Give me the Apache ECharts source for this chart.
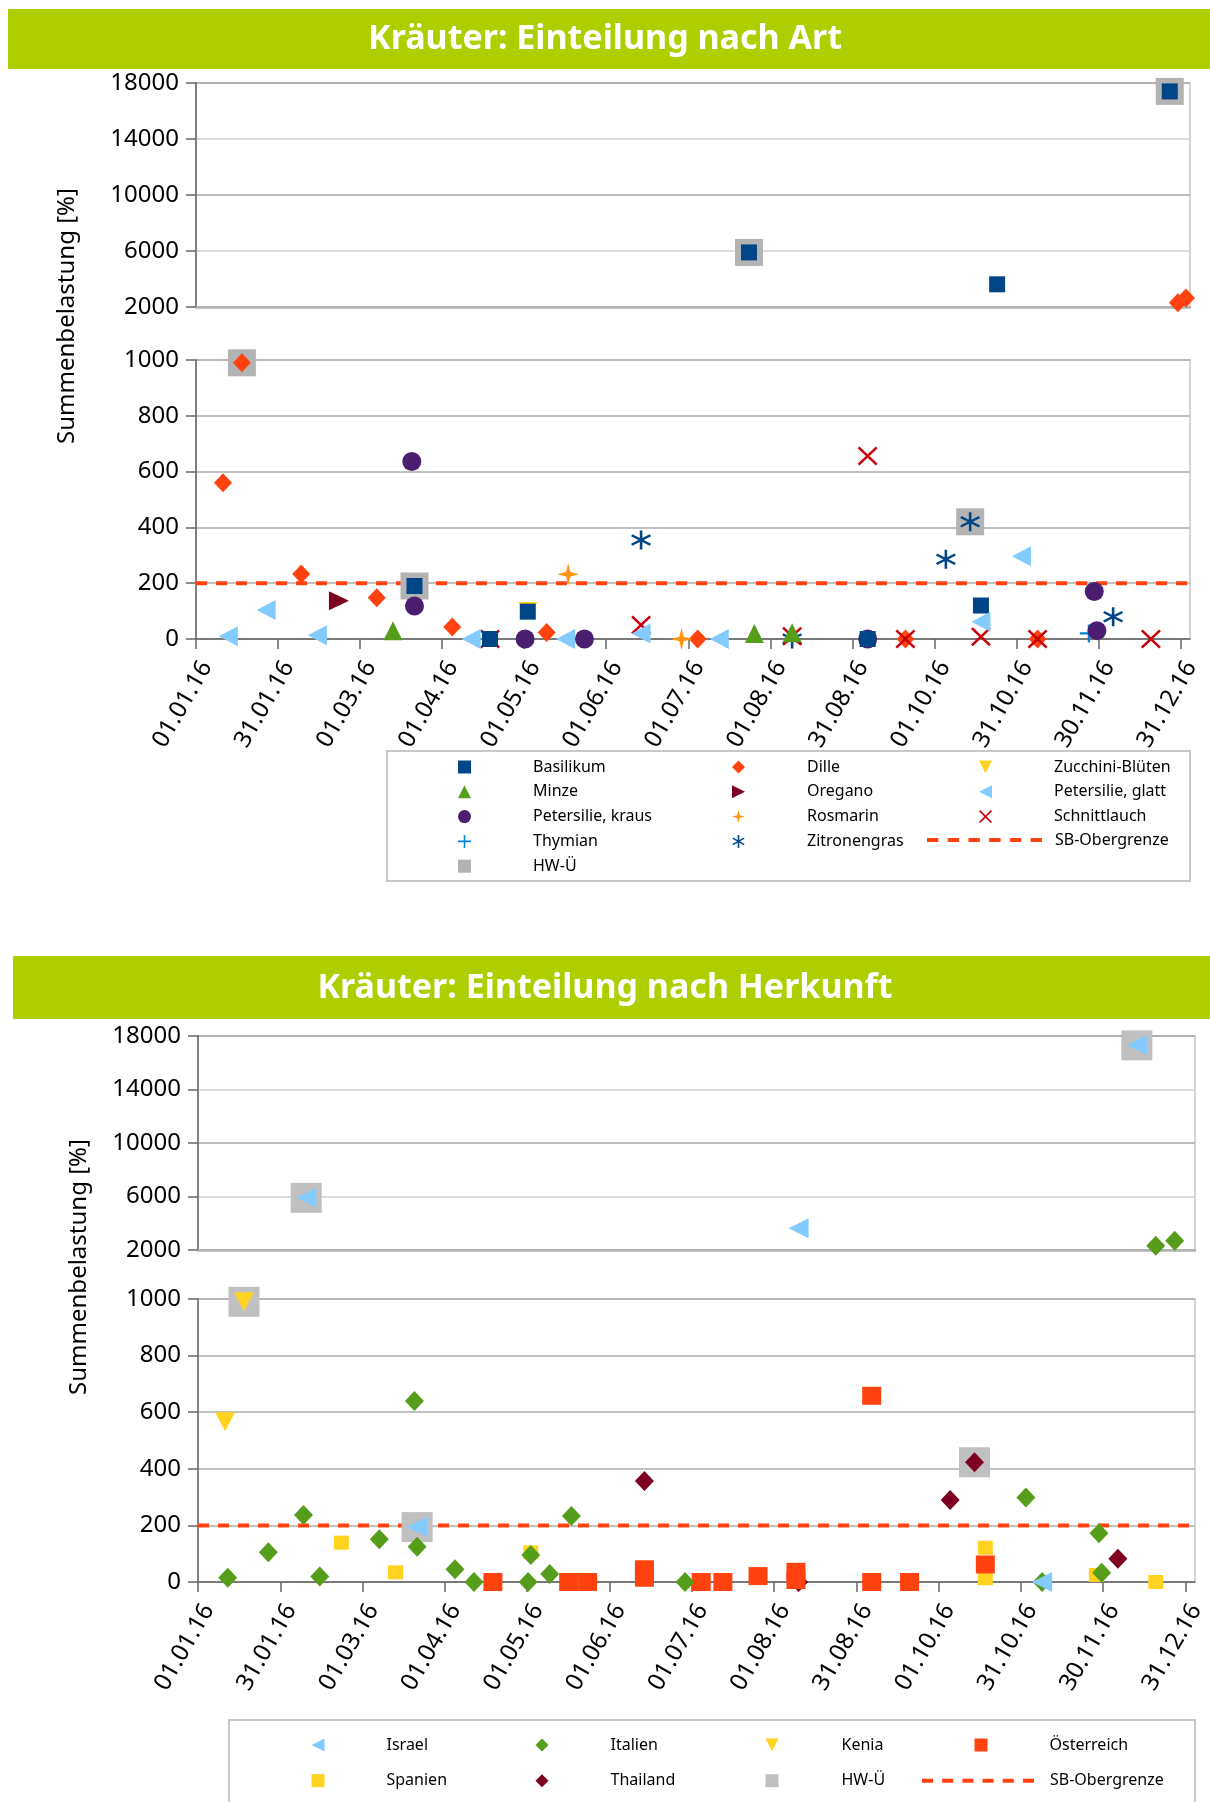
<!DOCTYPE html>
<html>
<head>
<meta charset="utf-8">
<script src="https://cdn.jsdelivr.net/npm/echarts@6/dist/echarts.min.js"></script>
<style>
  html, body { margin: 0; padding: 0; background: #fff; }
  #chart1 { width: 1210px; height: 900px; }
  #chart2 { width: 1210px; height: 902px; }
</style>
</head>
<body>
<div id="chart1"></div>
<div id="chart2"></div>
<script>
// ticks on the date axis, one every 365/12 days from 01.01.16
const xTickLabels = ['01.01.16', '31.01.16', '01.03.16', '01.04.16', '01.05.16', '01.06.16', '01.07.16',
  '01.08.16', '31.08.16', '01.10.16', '31.10.16', '30.11.16', '31.12.16'];
const upperTicks = [2000, 6000, 10000, 14000, 18000];
const lowerTicks = [0, 200, 400, 600, 800, 1000];
const sbLimit = 200;

// chart 1: Einteilung nach Art  [date, Summenbelastung %]
const basilikum = [['2016-03-22', 190], ['2016-04-19', 0], ['2016-05-03', 98], ['2016-07-24', 5900],
  ['2016-09-06', 0], ['2016-10-18', 120], ['2016-10-24', 3620], ['2016-12-27', 17400]];
const dille = [['2016-01-11', 560], ['2016-01-18', 990], ['2016-02-09', 233], ['2016-03-08', 148],
  ['2016-04-05', 43], ['2016-05-10', 23], ['2016-07-05', 0], ['2016-09-20', 0], ['2016-11-08', 0],
  ['2016-12-30', 2300], ['2017-01-02', 2650]];
const zucchiniBlueten = [['2016-05-03', 100]];
const minze = [['2016-03-14', 30], ['2016-07-26', 20], ['2016-08-09', 22]];
const oregano = [['2016-02-23', 137]];
const petersilieGlatt = [['2016-01-13', 10], ['2016-01-27', 104], ['2016-02-15', 13], ['2016-04-12', 0],
  ['2016-05-17', 0], ['2016-06-14', 20], ['2016-07-13', 0], ['2016-10-18', 62], ['2016-11-02', 297]];
const petersilieKraus = [['2016-03-21', 636], ['2016-03-22', 118], ['2016-05-02', 0], ['2016-05-24', 0],
  ['2016-09-06', 0], ['2016-11-29', 170], ['2016-11-30', 30]];
const rosmarin = [['2016-05-18', 232], ['2016-06-29', 0]];
const schnittlauch = [['2016-04-19', 0], ['2016-06-14', 50], ['2016-08-09', 10], ['2016-09-06', 656],
  ['2016-09-20', 0], ['2016-10-18', 8], ['2016-11-08', 0], ['2016-12-20', 0]];
const thymian = [['2016-11-27', 20]];
const zitronengras = [['2016-06-14', 355], ['2016-08-09', 0], ['2016-10-05', 286], ['2016-10-14', 420],
  ['2016-12-06', 80]];
const hwUe1 = [['2016-01-18', 990], ['2016-03-22', 190], ['2016-07-24', 5900], ['2016-10-14', 420],
  ['2016-12-27', 17400]];

// chart 2: Einteilung nach Herkunft
const israel = [['2016-02-10', 5900], ['2016-03-22', 194], ['2016-08-10', 3620], ['2016-11-08', 0],
  ['2016-12-13', 17300]];
const italien = [['2016-01-12', 15], ['2016-01-27', 105], ['2016-02-09', 237], ['2016-02-15', 19],
  ['2016-03-08', 151], ['2016-03-21', 640], ['2016-03-22', 125], ['2016-04-05', 45], ['2016-04-12', 0],
  ['2016-05-02', 0], ['2016-05-03', 95], ['2016-05-10', 28], ['2016-05-18', 233], ['2016-06-29', 0],
  ['2016-11-02', 299], ['2016-11-08', 0], ['2016-11-29', 172], ['2016-11-30', 33], ['2016-12-20', 2320],
  ['2016-12-27', 2700]];
const kenia = [['2016-01-11', 566], ['2016-01-18', 990]];
const oesterreich = [['2016-04-19', 0], ['2016-05-17', 0], ['2016-05-24', 0], ['2016-06-14', 45],
  ['2016-06-14', 15], ['2016-07-05', 0], ['2016-07-13', 0], ['2016-07-26', 21], ['2016-08-09', 36],
  ['2016-08-09', 7], ['2016-09-06', 658], ['2016-09-06', 0], ['2016-09-20', 0], ['2016-10-18', 62]];
const spanien = [['2016-02-23', 139], ['2016-03-14', 34], ['2016-05-03', 105], ['2016-10-18', 121],
  ['2016-10-18', 13], ['2016-11-28', 25], ['2016-12-20', 0]];
const thailand = [['2016-06-14', 357], ['2016-08-10', 0], ['2016-10-05', 290], ['2016-10-14', 423],
  ['2016-12-06', 82]];
const hwUe2 = [['2016-01-18', 990], ['2016-02-10', 5900], ['2016-03-22', 194], ['2016-10-14', 423],
  ['2016-12-13', 17300]];

const FONT = '"Noto Sans", "DejaVu Sans", sans-serif';
const SB_COLOR = '#FF420E';
const xStep = 365 / 12;
const xMax = 368.5;
const xTickValues = xTickLabels.map((_, i) => i * xStep);

// marker shapes
const TRI_LEFT = 'path://M0,10L20,0L20,20Z';
const TRI_RIGHT = 'path://M0,0L20,10L0,20Z';
const TRI_DOWN = 'path://M0,0L20,0L10,20Z';
const CROSS_X = 'path://M0,1.8L1.8,0L10,8.2L18.2,0L20,1.8L11.8,10L20,18.2L18.2,20L10,11.8L1.8,20L0,18.2L8.2,10Z';
const PLUS = 'path://M8.8,0H11.2V8.8H20V11.2H11.2V20H8.8V11.2H0V8.8H8.8Z';
const STAR4 = 'path://M10,0L12,8L20,10L12,12L10,20L8,12L0,10L8,8Z';
const ASTERISK = 'path://M8.8,0L11.2,0L11.2,20L8.8,20Z' +
  'M1.94,3.96L19.26,13.96L18.06,16.04L0.74,6.04Z' +
  'M19.26,6.04L1.94,16.04L0.74,13.96L18.06,3.96Z';
// six square dashes for the legend entry of the limit line
const DASHES = 'path://M0,0H11V4H0Z M20,0H31V4H20Z M40,0H51V4H40Z M60,0H71V4H60Z M80,0H91V4H80Z M100,0H111V4H100Z';

function dayOf(s) {
  const [y, m, d] = s.split('-').map(Number);
  return (Date.UTC(y, m - 1, d) - Date.UTC(2016, 0, 1)) / 86400000;
}

function addScatter(list, def, z) {
  const pts = def.data.map(p => [dayOf(p[0]), p[1]]);
  const common = {
    name: def.name, type: 'scatter', symbol: def.symbol, symbolSize: def.size,
    itemStyle: { color: def.color, opacity: 1 }, z: z, silent: true
  };
  list.push(Object.assign({}, common, { xAxisIndex: 0, yAxisIndex: 0, data: pts.filter(p => p[1] > 1000) }));
  list.push(Object.assign({}, common, { xAxisIndex: 1, yAxisIndex: 1, data: pts.filter(p => p[1] <= 1000) }));
}

function buildOption(L) {
  const series = [{
    name: 'SB-Obergrenze', type: 'line', xAxisIndex: 1, yAxisIndex: 1,
    data: [[0, sbLimit], [xMax, sbLimit]], symbol: 'none', silent: true, z: 1,
    itemStyle: { color: SB_COLOR },
    lineStyle: { color: SB_COLOR, width: 4, type: [11, 9] }
  }];
  addScatter(series, L.hw, 1);
  L.defs.forEach(d => addScatter(series, d, 2));

  const axisLineStyle = { color: '#666', width: 1.5 };
  const legendText = pad => ({ fontSize: 16, color: '#000', fontFamily: FONT, lineHeight: 18, padding: [0, 0, 0, pad] });
  const legends = L.cols.map(c => ({
    orient: 'vertical', left: c.left, top: c.top, padding: 0,
    itemWidth: 13, itemHeight: 13, itemGap: L.legendGap, selectedMode: false,
    data: c.items, textStyle: legendText(c.pad)
  }));
  legends.push({
    left: L.sb.left, top: L.sb.top, padding: 0, itemWidth: L.sb.width, itemHeight: 18,
    selectedMode: false, data: [{ name: 'SB-Obergrenze', icon: DASHES, itemStyle: { color: SB_COLOR } }],
    textStyle: legendText(L.sb.pad)
  });

  return {
    animation: false,
    textStyle: { fontFamily: FONT },
    title: {
      text: L.title, left: 'center', top: L.titleTop, padding: 0, z: 10,
      textStyle: { color: '#fff', fontSize: 34, fontWeight: 'bold', fontFamily: FONT, lineHeight: 40 }
    },
    graphic: [
      { type: 'rect', z: 0, shape: L.banner, style: { fill: '#AFCE00' } },
      { type: 'rect', z: 0, shape: L.box, style: { fill: 'none', stroke: '#c8c8c8', lineWidth: 2 } },
      {
        type: 'text', x: L.yTitle.x, y: L.yTitle.y, rotation: Math.PI / 2, z: 5,
        style: {
          text: 'Summenbelastung [%]', font: '24px ' + FONT, fill: '#000',
          align: 'center', verticalAlign: 'middle', textAlign: 'center', textVerticalAlign: 'middle'
        }
      }
    ],
    legend: legends,
    grid: [
      { left: L.left, top: L.upperTop, width: L.width, height: L.upperH, show: true, borderColor: '#c8c8c8', borderWidth: 1.5 },
      { left: L.left, top: L.lowerTop, width: L.width, height: L.lowerH, show: true, borderColor: '#c8c8c8', borderWidth: 1.5 }
    ],
    xAxis: [
      {
        gridIndex: 0, type: 'value', min: 0, max: xMax,
        axisLine: { show: true, lineStyle: { color: '#b3b3b3', width: 2.5 } },
        axisTick: { show: false }, axisLabel: { show: false }, splitLine: { show: false }
      },
      {
        gridIndex: 1, type: 'value', min: 0, max: xMax,
        axisLine: { show: true, lineStyle: axisLineStyle },
        axisTick: { show: true, customValues: xTickValues, length: 10, lineStyle: axisLineStyle },
        axisLabel: {
          customValues: xTickValues, rotate: 60, margin: 18, fontSize: 24, color: '#000',
          align: 'right', verticalAlign: 'top',
          formatter: v => xTickLabels[Math.round(v / xStep)]
        },
        splitLine: { show: false }
      }
    ],
    yAxis: [
      {
        gridIndex: 0, type: 'value', min: 2000, max: 18000, interval: 2000,
        axisLine: { show: true, lineStyle: axisLineStyle },
        axisTick: { show: true, customValues: upperTicks, length: 10, lineStyle: axisLineStyle },
        axisLabel: { customValues: upperTicks, margin: 17, fontSize: 24, color: '#000', formatter: v => String(v) },
        splitLine: { show: true, lineStyle: { color: ['#a6a6a6', '#d2d2d2'], width: 1.5 } }
      },
      {
        gridIndex: 1, type: 'value', min: 0, max: 1000, interval: 200,
        axisLine: { show: true, lineStyle: axisLineStyle },
        axisTick: { show: true, customValues: lowerTicks, length: 10, lineStyle: axisLineStyle },
        axisLabel: { customValues: lowerTicks, margin: 17, fontSize: 24, color: '#000', formatter: v => String(v) },
        splitLine: { show: true, lineStyle: { color: '#acacac', width: 1.5 } }
      }
    ],
    series: series
  };
}

const layout1 = {
  title: 'Kräuter: Einteilung nach Art', titleTop: 19,
  banner: { x: 8, y: 9, width: 1202, height: 60 },
  left: 196, width: 994, upperTop: 83, upperH: 224, lowerTop: 360, lowerH: 279,
  yTitle: { x: 67, y: 316 },
  box: { x: 387, y: 751, width: 803, height: 130 },
  legendGap: 6.8,
  cols: [
    { left: 458, top: 758, pad: 57, items: ['Basilikum', 'Minze', 'Petersilie, kraus', 'Thymian', 'HW-Ü'] },
    { left: 732, top: 758, pad: 57, items: ['Dille', 'Oregano', 'Rosmarin', 'Zitronengras'] },
    { left: 979, top: 758, pad: 57, items: ['Zucchini-Blüten', 'Petersilie, glatt', 'Schnittlauch'] }
  ],
  sb: { left: 927, top: 831, width: 115, pad: 8 },
  hw: { name: 'HW-Ü', data: hwUe1, symbol: 'rect', size: [28, 27], color: '#B3B3B3' },
  defs: [
    { name: 'Thymian', data: thymian, symbol: PLUS, size: [18, 18], color: '#0084D1' },
    { name: 'Zucchini-Blüten', data: zucchiniBlueten, symbol: TRI_DOWN, size: [19, 18], color: '#FFD320' },
    { name: 'Petersilie, kraus', data: petersilieKraus, symbol: 'circle', size: [19, 19], color: '#4B1F6F' },
    { name: 'Dille', data: dille, symbol: 'diamond', size: [18, 19], color: '#FF420E' },
    { name: 'Zitronengras', data: zitronengras, symbol: ASTERISK, size: [20, 19], color: '#004586' },
    { name: 'Schnittlauch', data: schnittlauch, symbol: CROSS_X, size: [20, 19], color: '#C5000B' },
    { name: 'Basilikum', data: basilikum, symbol: 'rect', size: [16, 16], color: '#004586' },
    { name: 'Petersilie, glatt', data: petersilieGlatt, symbol: TRI_LEFT, size: [19, 20], color: '#83CAFF' },
    { name: 'Minze', data: minze, symbol: 'triangle', size: [19, 19], color: '#579D1C' },
    { name: 'Oregano', data: oregano, symbol: TRI_RIGHT, size: [20, 19], color: '#7E0021' },
    { name: 'Rosmarin', data: rosmarin, symbol: STAR4, size: [22, 22], color: '#FF950E' }
  ]
};

const layout2 = {
  title: 'Kräuter: Einteilung nach Herkunft', titleTop: 68,
  banner: { x: 13, y: 56, width: 1197, height: 63 },
  left: 198, width: 997, upperTop: 136, upperH: 214, lowerTop: 399, lowerH: 283,
  yTitle: { x: 79, y: 367 },
  box: { x: 229, y: 820, width: 966, height: 110 },
  legendGap: 17.7,
  cols: [
    { left: 311.5, top: 836, pad: 57, items: ['Israel', 'Spanien'] },
    { left: 535.5, top: 836, pad: 57, items: ['Italien', 'Thailand'] },
    { left: 765.5, top: 836, pad: 58, items: ['Kenia', 'HW-Ü'] },
    { left: 974.5, top: 836, pad: 57, items: ['Österreich'] }
  ],
  sb: { left: 922, top: 871.7, width: 112, pad: 11 },
  hw: { name: 'HW-Ü', data: hwUe2, symbol: 'rect', size: [31, 30], color: '#C0C0C0' },
  defs: [
    { name: 'Spanien', data: spanien, symbol: 'rect', size: [15, 14], color: '#FFD320' },
    { name: 'Thailand', data: thailand, symbol: 'diamond', size: [19, 20], color: '#7E0021' },
    { name: 'Kenia', data: kenia, symbol: TRI_DOWN, size: [20, 19], color: '#FFD320' },
    { name: 'Österreich', data: oesterreich, symbol: 'rect', size: [19, 18], color: '#FF420E' },
    { name: 'Italien', data: italien, symbol: 'diamond', size: [19, 20], color: '#579D1C' },
    { name: 'Israel', data: israel, symbol: TRI_LEFT, size: [20, 20], color: '#83CAFF' }
  ]
};

const chart1 = echarts.init(document.getElementById('chart1'));
chart1.setOption(buildOption(layout1));
const chart2 = echarts.init(document.getElementById('chart2'));
chart2.setOption(buildOption(layout2));
</script>
</body>
</html>
